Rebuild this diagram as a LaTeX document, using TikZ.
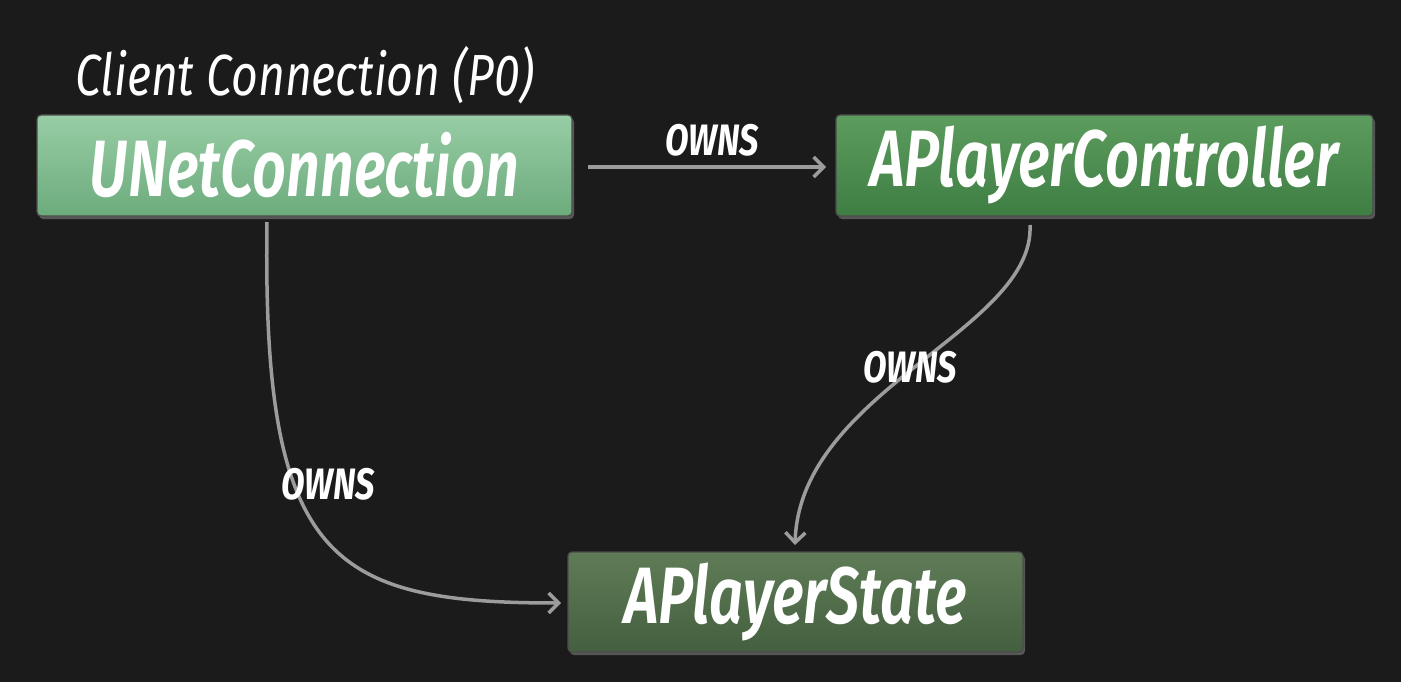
\documentclass[tikz,border=0pt]{standalone}
\usepackage{fontspec}
\setmainfont{Fira Sans}
\newfontfamily\boxfont[FakeStretch=0.74]{Fira Sans SemiBold}
\newfontfamily\lblfont[FakeStretch=0.78]{Fira Sans Bold}
\newfontfamily\condfont[FakeStretch=0.8]{Fira Sans}
\usetikzlibrary{arrows.meta,shadows}
\definecolor{bg}{HTML}{1B1B1B}
\definecolor{c1t}{HTML}{98CDA5}
\definecolor{c1b}{HTML}{6CAB7C}
\definecolor{c2t}{HTML}{5C9C5E}
\definecolor{c2b}{HTML}{3E7E43}
\definecolor{c3t}{HTML}{5F7C57}
\definecolor{c3b}{HTML}{445F3F}
\definecolor{arr}{HTML}{9C9C9C}
\tikzset{
  box/.style={draw=black!70, line width=1.2pt, rounded corners=4pt, text=white,
    font=\boxfont\itshape\fontsize{80}{80}\selectfont, inner sep=0pt,
    drop shadow={shadow xshift=2pt, shadow yshift=-3pt, opacity=0.6}},
  conn/.style={draw=arr, line width=3.5pt, -{Straight Barb[length=10pt,width=20pt,line width=3.5pt]}},
  lbl/.style={text=white, font=\lblfont\itshape\fontsize{44}{44}\selectfont, inner sep=2pt},
}
\begin{document}
\begin{tikzpicture}[x=1pt,y=-1pt]
\fill[bg] (0,0) rectangle (1401,682);
\useasboundingbox (0,0) rectangle (1401,682);
\node[box, top color=c1t, bottom color=c1b, minimum width=535pt, minimum height=101pt] (unet) at (304.5,165.5) {UNetConnection};
\node[box, top color=c2t, bottom color=c2b, minimum width=537pt, minimum height=101pt] (apc) at (1104.5,165.5) {APlayerController};
\node[box, top color=c3t, bottom color=c3b, minimum width=455pt, minimum height=100pt] (aps) at (795.5,602) {APlayerState};
\node[text=white, font=\condfont\itshape\fontsize{58}{58}\selectfont] (title) at (305,75) {Client Connection (P0)};
\coordinate (s1) at (588,167);
\coordinate (e1) at (826,167);
\draw[conn] (s1) -- (e1);
\node[lbl] (l1) at (712,140) {OWNS};
\coordinate (s2) at (1030,225);
\coordinate (e2) at (795,545);
\draw[conn] (s2) .. controls (1035,330) and (800,390) .. (e2);
\node[lbl] (l2) at (910,367) {OWNS};
\coordinate (s3) at (267,222);
\coordinate (e3) at (561,603);
\draw[conn] (s3) .. controls (262,560) and (330,603) .. (e3);
\node[lbl] (l3) at (328,484) {OWNS};
\end{tikzpicture}
\end{document}
